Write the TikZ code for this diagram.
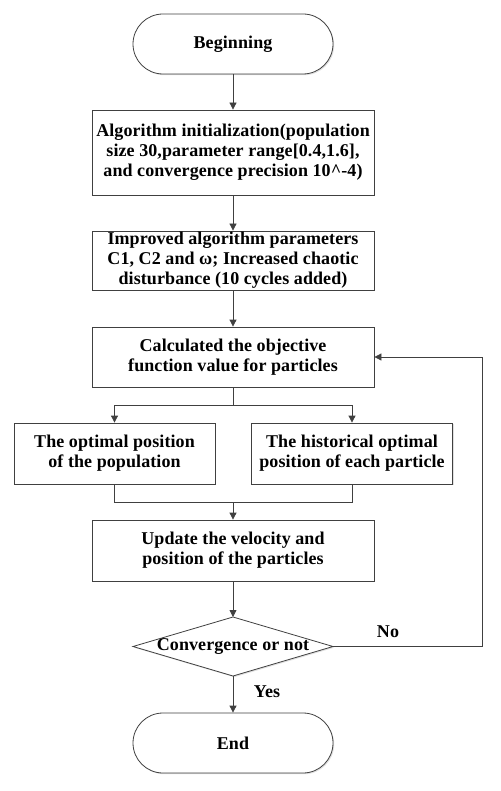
\documentclass[tikz,border=0pt]{standalone}
\usepackage{fontspec}
\setmainfont[LetterSpace=0.5]{Liberation Serif}
\usetikzlibrary{arrows.meta,shadows}
\definecolor{ln}{HTML}{404040}
\begin{document}
\begin{tikzpicture}[x=1pt,y=-1pt,
  font=\bfseries\fontsize{18}{20}\selectfont,
  base/.style={draw=ln, line width=0.8pt, fill=white, align=center, inner sep=0pt,
    drop shadow={shadow xshift=1.2pt, shadow yshift=-1.2pt, fill=black!20, opacity=0.6}},
  procbox/.style={base, minimum width=282pt},
  sidebox/.style={base, minimum width=201pt, minimum height=61pt},
  term/.style={base, rounded corners=30pt, minimum width=200pt, minimum height=60pt},
  conn/.style={draw=ln, line width=0.8pt},
  arr/.style={conn, -{Triangle[width=7pt,length=7pt]}},
  lbl/.style={inner sep=0pt}]
\useasboundingbox (0,0) rectangle (500,791);
\node[term] (begin) at (233,44) {Beginning};
\node[procbox, minimum height=85pt] (init) at (233,152.5) {Algorithm initialization(population\\size 30,parameter range[0.4,1.6],\\and convergence precision 10\^{}-4)};
\node[procbox, minimum height=59pt] (impr) at (233,260.5) {Improved algorithm parameters\\C1, C2 and ω; Increased chaotic\\disturbance (10 cycles added)};
\node[procbox, minimum height=60pt] (calc) at (233,357) {Calculated the objective\\function value for particles};
\node[sidebox] (popt) at (114.5,453.5) {The optimal position\\of the population};
\node[sidebox] (hopt) at (352,453.5) {The historical optimal\\position of each particle};
\node[procbox, minimum height=61pt] (upd) at (233,550.5) {Update the velocity and\\position of the particles};
% decision
\coordinate (dtop) at (233,617);
\coordinate (dright) at (333,646.5);
\coordinate (dbot) at (233,676);
\coordinate (dleft) at (133,646.5);
\path[base] (dtop) -- (dright) -- (dbot) -- (dleft) -- cycle;
\node[lbl] (dec) at (233,646.5) {Convergence or not};
\node[term] (end) at (233,743) {End};
% connectors
\draw[arr] (begin) -- (init);
\draw[arr] (init) -- (impr);
\draw[arr] (impr) -- (calc);
\coordinate (split) at (233,405);
\draw[conn] (calc.south) -- (split);
\draw[arr] (split) -| (popt.north);
\draw[arr] (split) -| (hopt.north);
\coordinate (join) at (233,502);
\draw[conn] (popt.south) |- (join);
\draw[conn] (hopt.south) |- (join);
\draw[arr] (join) -- (upd.north);
\draw[arr] (upd) -- (dtop);
\coordinate (loop) at (482.7,646.5);
\draw[arr] (dright) -- (loop) |- (calc.east);
\draw[arr] (dbot) -- (end);
\node[lbl] (no) at (388,632) {No};
\node[lbl] (yes) at (267,692) {Yes};
\end{tikzpicture}
\end{document}
